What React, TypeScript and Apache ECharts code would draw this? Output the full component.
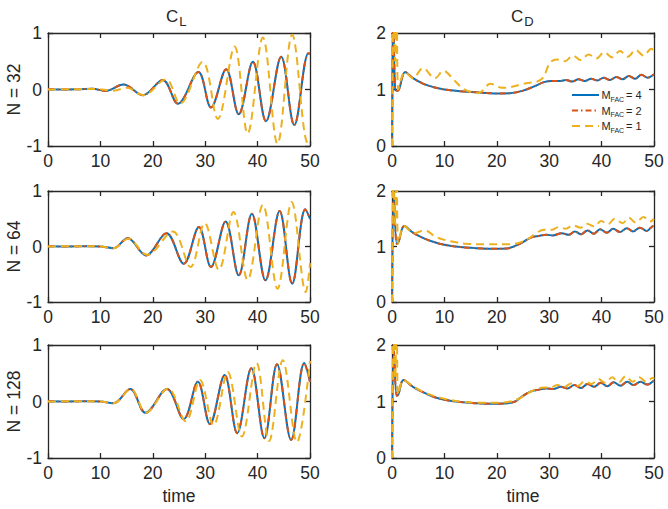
import React, { useEffect, useRef } from "react";
import * as echarts from "echarts";

// ---------- labels ----------
const ROW_LABELS = ["N = 32", "N = 64", "N = 128"];
const COL_TITLES = [["C", "L"], ["C", "D"]];
const LEGEND_VALUES = ["4", "2", "1"]; // M_FAC values
const X_MIN = 0, X_MAX = 50, X_STEP = 10;
const CL_RANGE = [-1, 1];
const CD_RANGE = [0, 2];

// ---------- C_L data [time, value] ----------
const CL_N32_M4 = [[0,0.005],[3,0],[6,0.005],[8.5,0.012],[11,-0.025],[14.4,0.09],[18.1,-0.1],[21.9,0.17],[24.8,-0.25],[28.7,0.31],[31.1,-0.32],[34.0,0.36],[36.4,-0.44],[39.1,0.49],[41.6,-0.56],[44.5,0.58],[47.0,-0.63],[49.7,0.64],[50,0.63]];
const CL_N32_M2 = CL_N32_M4;
const CL_N32_M1 = [[0,0],[5,0.005],[9,0.01],[12.5,-0.02],[15.0,0.03],[18.2,-0.1],[22.5,0.18],[25.2,-0.25],[29.5,0.49],[32.4,-0.52],[35.6,0.76],[38.1,-0.78],[41.0,0.92],[43.8,-0.96],[46.6,0.97],[49.6,-0.95],[50,-0.9]];

const CL_N64_M4 = [[0,0.005],[4,0],[8,0.005],[10,0],[12.5,-0.03],[15.2,0.15],[18.7,-0.16],[22.6,0.24],[25.9,-0.31],[28.8,0.35],[31.1,-0.37],[33.9,0.45],[36.4,-0.52],[38.9,0.59],[41.5,-0.61],[44.2,0.64],[46.6,-0.67],[49.1,0.67],[50,0.5]];
const CL_N64_M2 = CL_N64_M4;
const CL_N64_M1 = [[0,0],[5,0.005],[10,0],[12.5,-0.03],[15.3,0.14],[18.9,-0.15],[23.8,0.27],[27.2,-0.37],[29.9,0.42],[32.6,-0.42],[35.4,0.62],[38.1,-0.6],[41.0,0.75],[43.8,-0.76],[46.5,0.8],[49.2,-0.82],[50,-0.3]];

const CL_N128_M4 = [[0,0.005],[4,0],[8,0.005],[10,0],[12.5,-0.03],[15.7,0.22],[18.6,-0.2],[22.7,0.22],[25.9,-0.31],[28.6,0.35],[30.9,-0.4],[33.7,0.47],[36.1,-0.56],[38.8,0.59],[41.3,-0.65],[43.7,0.66],[46.4,-0.68],[48.9,0.68],[50,0.35]];
const CL_N128_M2 = CL_N128_M4;
const CL_N128_M1 = [[0,0],[5,0.005],[10,0],[12.5,-0.03],[15.8,0.22],[18.7,-0.2],[22.9,0.23],[26.3,-0.35],[29.0,0.38],[31.6,-0.42],[34.3,0.52],[37.0,-0.62],[39.8,0.68],[42.2,-0.7],[44.8,0.73],[47.5,-0.72],[50,0.72]];

// ---------- C_D data [time, value] ----------
const CD_N32_M4 = [[0,0],[0.25,2.4],[0.6,1.0],[1.1,0.98],[2.5,1.31],[4,1.2],[6,1.1],[8,1.04],[10,1.0],[13,0.97],[16,0.95],[20,0.93],[22.5,0.935],[25,0.98],[27,1.05],[29,1.13],[30.5,1.15],[32,1.15],[33.2,1.17],[34.4,1.14],[35.6,1.18],[36.8,1.15],[38,1.19],[39.2,1.16],[40.4,1.21],[41.6,1.17],[42.8,1.22],[44,1.18],[45.2,1.24],[46.4,1.19],[47.6,1.26],[48.8,1.21],[50,1.27]];
const CD_N32_M2 = CD_N32_M4;
const CD_N32_M1 = [[0,0],[0.3,2.4],[0.6,1.5],[0.9,2.4],[1.2,1.0],[2.5,1.31],[4,1.2],[5.9,1.38],[8.2,1.2],[9.8,1.33],[12,1.15],[13.8,1.0],[16.5,0.94],[18.8,1.1],[21,1.03],[22.5,1.04],[25,1.1],[28.5,1.18],[30.2,1.48],[31.5,1.53],[33,1.5],[34.5,1.6],[36,1.52],[37.5,1.62],[39,1.55],[40.5,1.66],[42,1.57],[43.5,1.68],[45,1.58],[46.5,1.7],[48,1.6],[49.5,1.72],[50,1.68]];

const CD_N64_M4 = [[0,0],[0.35,1.95],[0.9,1.05],[1.2,1.07],[2.35,1.37],[4,1.25],[6,1.15],[8,1.08],[10,1.03],[13,0.99],[16,0.97],[19,0.96],[22,0.965],[24.4,1.05],[26.5,1.16],[28,1.19],[29.5,1.21],[30.7,1.2],[32.4,1.24],[33.7,1.21],[34.9,1.27],[36.1,1.22],[37.3,1.29],[38.5,1.23],[39.7,1.31],[41,1.25],[42.2,1.32],[43.5,1.26],[44.8,1.33],[46,1.27],[47.3,1.34],[48.6,1.28],[49.9,1.37],[50,1.37]];
const CD_N64_M2 = CD_N64_M4;
const CD_N64_M1 = [[0,0],[0.3,2.4],[0.6,1.4],[0.9,2.4],[1.2,1.05],[2.35,1.37],[4.2,1.24],[6.3,1.29],[8.2,1.18],[10,1.12],[12,1.08],[14,1.05],[18,1.04],[22,1.04],[24,1.06],[26.2,1.15],[27.5,1.24],[29,1.3],[30.5,1.3],[31.8,1.35],[33.2,1.32],[34.5,1.38],[36,1.34],[37.2,1.41],[38.6,1.36],[39.9,1.46],[41.2,1.4],[42.5,1.5],[44,1.42],[45.2,1.52],[46.5,1.43],[48,1.53],[49.3,1.45],[50,1.5]];

const CD_N128_M4 = [[0,0],[0.35,1.9],[0.9,1.1],[1.2,1.12],[2.2,1.38],[4,1.26],[6,1.16],[8,1.08],[10,1.03],[13,0.99],[16,0.97],[19,0.96],[21.5,0.965],[23.5,1.0],[24.4,1.06],[26.3,1.17],[28,1.21],[29.5,1.23],[30.8,1.22],[32.2,1.26],[33.5,1.23],[34.8,1.29],[36.1,1.24],[37.3,1.31],[38.6,1.26],[39.8,1.33],[41.1,1.27],[42.3,1.34],[43.6,1.28],[44.9,1.35],[46.1,1.29],[47.4,1.35],[48.7,1.3],[50,1.37]];
const CD_N128_M2 = CD_N128_M4;
const CD_N128_M1 = [[0,0],[0.3,2.4],[0.6,1.4],[0.9,2.4],[1.2,1.12],[2.2,1.38],[4,1.27],[6,1.17],[8,1.1],[10,1.05],[13,1.0],[16,0.98],[20,0.98],[22,0.99],[24,1.04],[26,1.15],[27.5,1.22],[29,1.25],[30.3,1.25],[31.6,1.29],[32.9,1.26],[34.2,1.32],[35.5,1.28],[36.8,1.36],[38.1,1.31],[39.4,1.4],[40.7,1.33],[42,1.43],[43.3,1.34],[44.6,1.45],[45.9,1.35],[47.2,1.43],[48.5,1.35],[49.8,1.42],[50,1.4]];

// ---------- layout / style ----------
const FONT = "'Liberation Sans', Arial, Helvetica, sans-serif";
const INK = "#262626";
const COLORS = ["#0072BD", "#D95319", "#EDB120"];
const DASHES: any[] = ["solid", [6, 3, 1.5, 3], [8, 5]];
const GRID_LEFT = [48, 392];
const GRID_TOP = [33, 191, 345];
const GRID_H = [113, 111, 113];
const GRID_W = 262;

const PANELS = [
  { row: 0, col: 0, data: [CL_N32_M4, CL_N32_M2, CL_N32_M1] },
  { row: 0, col: 1, data: [CD_N32_M4, CD_N32_M2, CD_N32_M1] },
  { row: 1, col: 0, data: [CL_N64_M4, CL_N64_M2, CL_N64_M1] },
  { row: 1, col: 1, data: [CD_N64_M4, CD_N64_M2, CD_N64_M1] },
  { row: 2, col: 0, data: [CL_N128_M4, CL_N128_M2, CL_N128_M1] },
  { row: 2, col: 1, data: [CD_N128_M4, CD_N128_M2, CD_N128_M1] },
];

function buildOption() {
  const grid: any[] = [];
  const xAxis: any[] = [];
  const yAxis: any[] = [];
  const series: any[] = [];
  const lineStyle = { color: INK, width: 1.3 };
  const tick = { show: true, inside: true, length: 5, lineStyle };
  const label = { fontSize: 17.5, color: INK, fontFamily: FONT };

  PANELS.forEach((p, i) => {
    grid.push({ left: GRID_LEFT[p.col], top: GRID_TOP[p.row], width: GRID_W, height: GRID_H[p.row] });
    const xBase = {
      gridIndex: i, type: "value", min: X_MIN, max: X_MAX, interval: X_STEP,
      axisLine: { show: true, onZero: false, lineStyle },
      axisTick: tick, splitLine: { show: false },
    };
    xAxis.push({
      ...xBase, position: "bottom",
      axisLabel: { ...label, margin: 6 },
      name: p.row === 2 ? "time" : "", nameLocation: "middle", nameGap: 29,
      nameTextStyle: { ...label },
    });
    xAxis.push({ ...xBase, position: "top", axisLabel: { show: false } });

    const range = p.col === 0 ? CL_RANGE : CD_RANGE;
    const yBase = {
      gridIndex: i, type: "value", min: range[0], max: range[1], interval: 1,
      axisLine: { show: true, onZero: false, lineStyle },
      axisTick: tick, splitLine: { show: false },
    };
    yAxis.push({
      ...yBase, position: "left",
      axisLabel: { ...label, margin: 6 },
      name: p.col === 0 ? ROW_LABELS[p.row] : "", nameLocation: "middle", nameRotate: 90, nameGap: 25,
      nameTextStyle: { ...label },
    });
    yAxis.push({ ...yBase, position: "right", axisLabel: { show: false } });

    p.data.forEach((d, k) => {
      series.push({
        type: "line", xAxisIndex: 2 * i, yAxisIndex: 2 * i,
        data: d, symbol: "none", showSymbol: false, smooth: 0.36, clip: true,
        z: 2 + k, silent: true,
        lineStyle: { color: COLORS[k], width: 2, type: DASHES[k] },
      });
    });
  });

  const graphic: any[] = [];
  // column titles
  const titleX = [166, 511];
  COL_TITLES.forEach((t, c) => {
    graphic.push({ type: "text", x: titleX[c], y: 16, style: { text: t[0], font: `17px ${FONT}`, fill: INK, verticalAlign: "middle", align: "left" } });
    graphic.push({ type: "text", x: titleX[c] + 13.3, y: 21.5, style: { text: t[1], font: `13px ${FONT}`, fill: INK, verticalAlign: "middle", align: "left" } });
  });
  // legend
  const legY = [95, 110.5, 126];
  LEGEND_VALUES.forEach((v, k) => {
    graphic.push({ type: "line", shape: { x1: 572, y1: legY[k], x2: 599, y2: legY[k] }, style: { stroke: COLORS[k], lineWidth: 2, lineDash: DASHES[k] === "solid" ? null : DASHES[k] } });
    graphic.push({ type: "text", x: 601.5, y: legY[k], style: { text: "M", font: `11px ${FONT}`, fill: INK, verticalAlign: "middle" } });
    graphic.push({ type: "text", x: 610.5, y: legY[k] + 4, style: { text: "FAC", font: `7px ${FONT}`, fill: INK, verticalAlign: "middle" } });
    graphic.push({ type: "text", x: 626, y: legY[k], style: { text: "= " + v, font: `11px ${FONT}`, fill: INK, verticalAlign: "middle" } });
  });

  return { animation: false, backgroundColor: "#ffffff", grid, xAxis, yAxis, series, graphic };
}

export default function App() {
  const ref = useRef<HTMLDivElement>(null);
  useEffect(() => {
    if (!ref.current) return;
    const chart = echarts.init(ref.current, undefined, { renderer: "svg" });
    chart.setOption(buildOption() as any);
    return () => chart.dispose();
  }, []);
  return <div ref={ref} style={{ position: "fixed", left: 0, top: 0, width: 668, height: 509, background: "#fff" }} />;
}
